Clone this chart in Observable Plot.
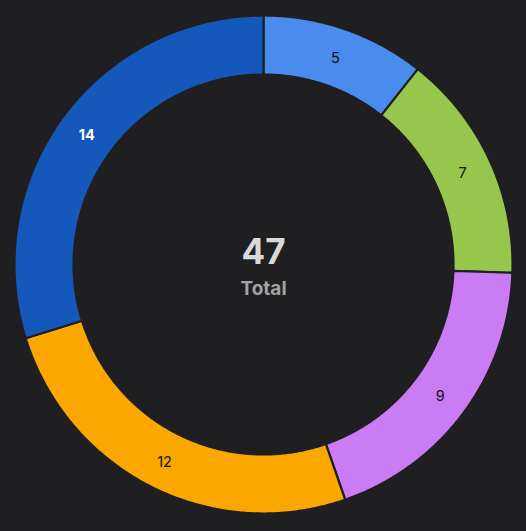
<!DOCTYPE html>
<html>
<head>
<meta charset="utf-8">
<script src="https://cdn.jsdelivr.net/npm/d3@7"></script>
<script src="https://cdn.jsdelivr.net/npm/@observablehq/plot@0.6"></script>
<style>
  html, body { margin: 0; padding: 0; background: #1f1f21; }
  #chart svg { display: block; }
</style>
</head>
<body>
<div id="chart"></div>
<script>
// Data
const categories = ["A", "B", "C", "D", "E"];
const values = [5, 7, 9, 12, 14];
const palette = ["#4a8bee", "#96c64b", "#c97cf3", "#fba700", "#1558bc"];
const totalLabel = "Total";

const W = 526, H = 531;
const cx = 263, cy = 264, R = 249;       // pixels
const inner = 0.763;                      // inner radius ratio

const total = d3.sum(values);
const pie = d3.pie().sort(null).value(d => d.value)(
  categories.map((c, i) => ({category: c, value: values[i]}))
);

// Build ring polygons in units where outer radius = 1
const rings = [];
for (const a of pie) {
  const n = Math.max(8, Math.ceil((a.endAngle - a.startAngle) * 120));
  for (let k = 0; k <= n; k++) {
    const t = a.startAngle + (a.endAngle - a.startAngle) * k / n;
    rings.push({category: a.data.category, x: Math.sin(t), y: Math.cos(t)});
  }
  for (let k = n; k >= 0; k--) {
    const t = a.startAngle + (a.endAngle - a.startAngle) * k / n;
    rings.push({category: a.data.category, x: inner * Math.sin(t), y: inner * Math.cos(t)});
  }
}
const labels = pie.map(a => {
  const m = (a.startAngle + a.endAngle) / 2, r = (1 + inner) / 2;
  return {category: a.data.category, value: a.data.value, x: r * Math.sin(m), y: r * Math.cos(m)};
});

const chart = Plot.plot({
  width: W, height: H,
  margin: 0,
  style: {background: "#1f1f21", fontFamily: "Inter, sans-serif"},
  x: {domain: [-cx / R, (W - cx) / R], axis: null},
  y: {domain: [-(H - cy) / R, cy / R], axis: null},
  color: {domain: categories, range: palette},
  marks: [
    Plot.line(rings, {x: "x", y: "y", z: "category", fill: "category", stroke: "#1f1f21", strokeWidth: 2.2, curve: "linear-closed"}),
    Plot.text(labels.filter(d => d.category !== "E"), {x: "x", y: "y", text: d => String(d.value), dy: 1.5, fill: "#111", fontSize: 14.5}),
    Plot.text(labels.filter(d => d.category === "E"), {x: "x", y: "y", text: d => String(d.value), dy: 1.5, fill: "#ffffff", fontSize: 14.5, fontWeight: "bold"}),
    Plot.text([total], {x: () => 0, y: () => 0, text: d => String(d), dy: -12, fill: "#d9d9d9", fontSize: 35, fontWeight: "bold"}),
    Plot.text([totalLabel], {x: () => 0, y: () => 0, text: d => d, dy: 24, fill: "#a3a3a3", fontSize: 19, fontWeight: "bold"})
  ]
});
document.getElementById("chart").appendChild(chart);
</script>
</body>
</html>
